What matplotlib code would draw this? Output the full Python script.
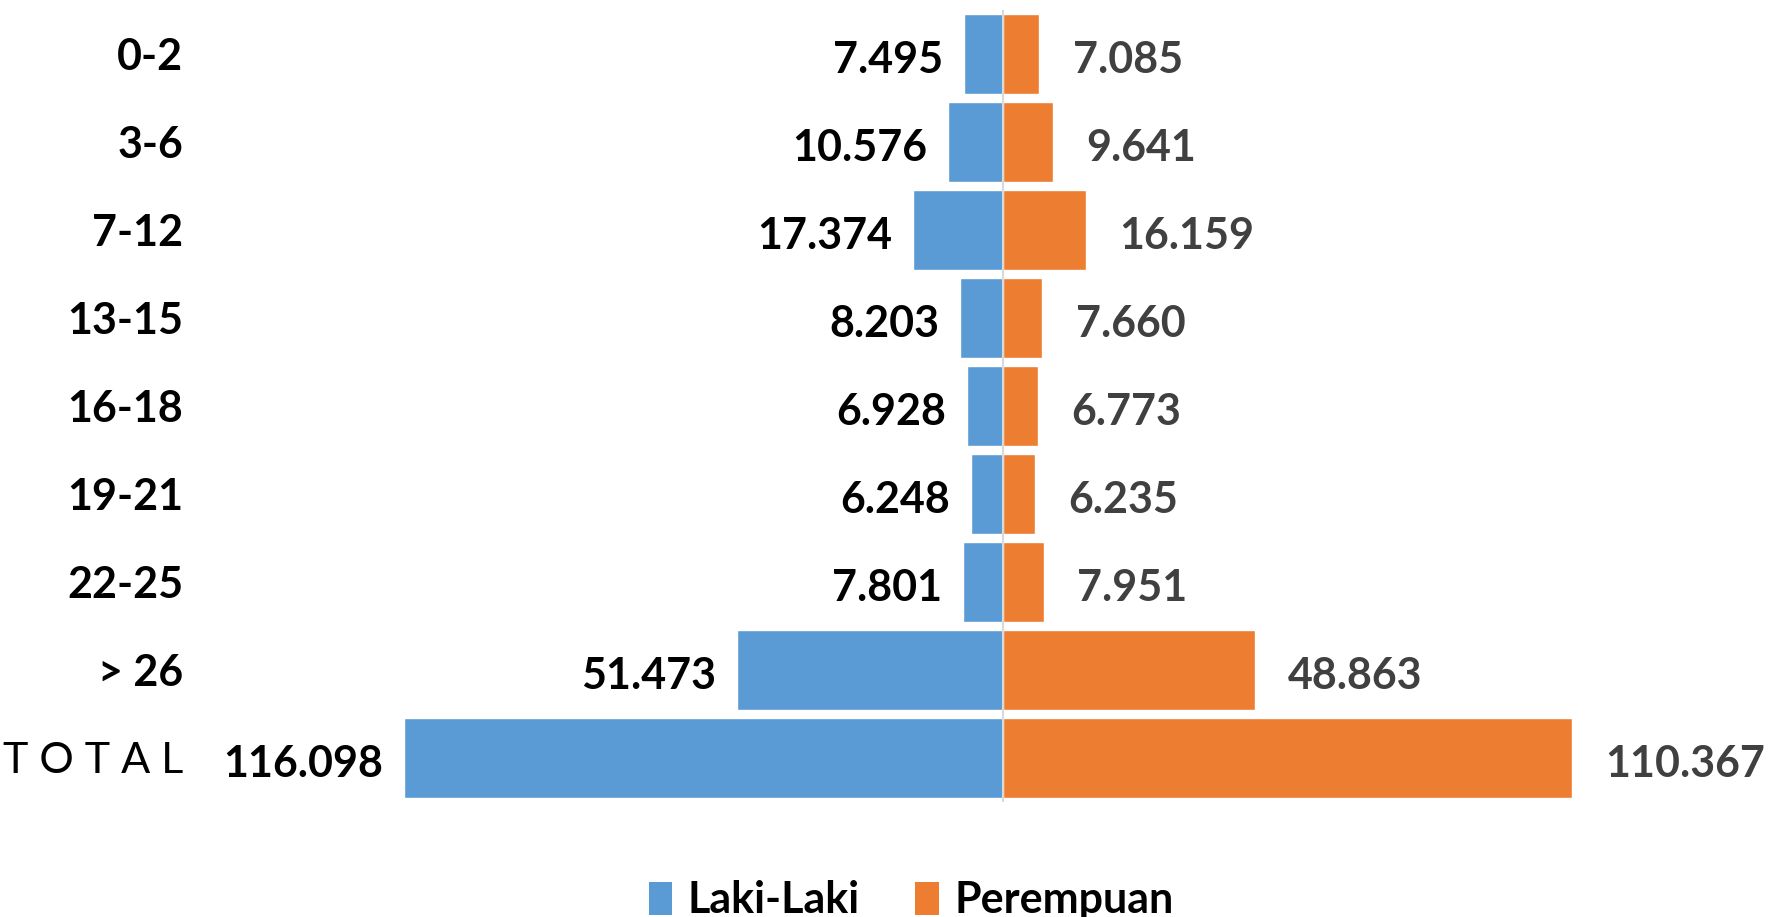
import matplotlib.pyplot as plt
import matplotlib.transforms as mtransforms
from matplotlib.patches import Patch

plt.rcParams["font.family"] = ["Lato", "DejaVu Sans"]

AGES = ["0-2", "3-6", "7-12", "13-15", "16-18", "19-21", "22-25", "> 26", "T O T A L"]
LAKI = [7495, 10576, 17374, 8203, 6928, 6248, 7801, 51473, 116098]
PEREMPUAN = [7085, 9641, 16159, 7660, 6773, 6235, 7951, 48863, 110367]

BLUE = "#5B9BD5"
ORANGE = "#ED7D31"

def fmt(v):
    return f"{v:,}".replace(",", ".")

fig = plt.figure(figsize=(17.69, 9.17), dpi=100)
fig.patch.set_facecolor("white")
ax = fig.add_axes([404 / 1769, 115 / 917, (1572 - 404) / 1769, 792 / 917])

y = list(range(len(AGES)))
ax.barh(y, [-v for v in LAKI], height=0.91, color=BLUE, edgecolor="white", lw=1)
ax.barh(y, PEREMPUAN, height=0.91, color=ORANGE, edgecolor="white", lw=1)
ax.axvline(0, color="#d9d9d9", lw=1.5, zorder=3)

ax.set_xlim(-max(LAKI), max(PEREMPUAN))
ax.set_ylim(len(AGES) - 0.5, -0.5)
ax.axis("off")

fs = 31
for i, (l, p) in enumerate(zip(LAKI, PEREMPUAN)):
    ax.annotate(fmt(l), (-l, i), xytext=(-15, -4), textcoords="offset points",
                ha="right", va="center", fontsize=fs, fontweight="bold", color="black")
    ax.annotate(fmt(p), (p, i), xytext=(24, -4), textcoords="offset points",
                ha="left", va="center", fontsize=fs, fontweight="bold", color="#404040")

trans = mtransforms.blended_transform_factory(fig.transFigure, ax.transData)
for i, a in enumerate(AGES):
    bold = "bold" if i < len(AGES) - 1 else "normal"
    ax.text(183 / 1769, i + 0.03, a, transform=trans, ha="right", va="center",
            fontsize=fs, fontweight=bold, color="black")

handles = [Patch(facecolor=BLUE, label="Laki-Laki"),
           Patch(facecolor=ORANGE, label="Perempuan")]
fig.legend(handles=handles, loc="center", bbox_to_anchor=(0.515, 0.018), ncol=2,
           frameon=False, prop={"size": fs, "weight": "bold"},
           handlelength=0.55, handleheight=0.8, handletextpad=0.35, columnspacing=1.3)

fig.savefig("out.png", dpi=100, facecolor="white")
